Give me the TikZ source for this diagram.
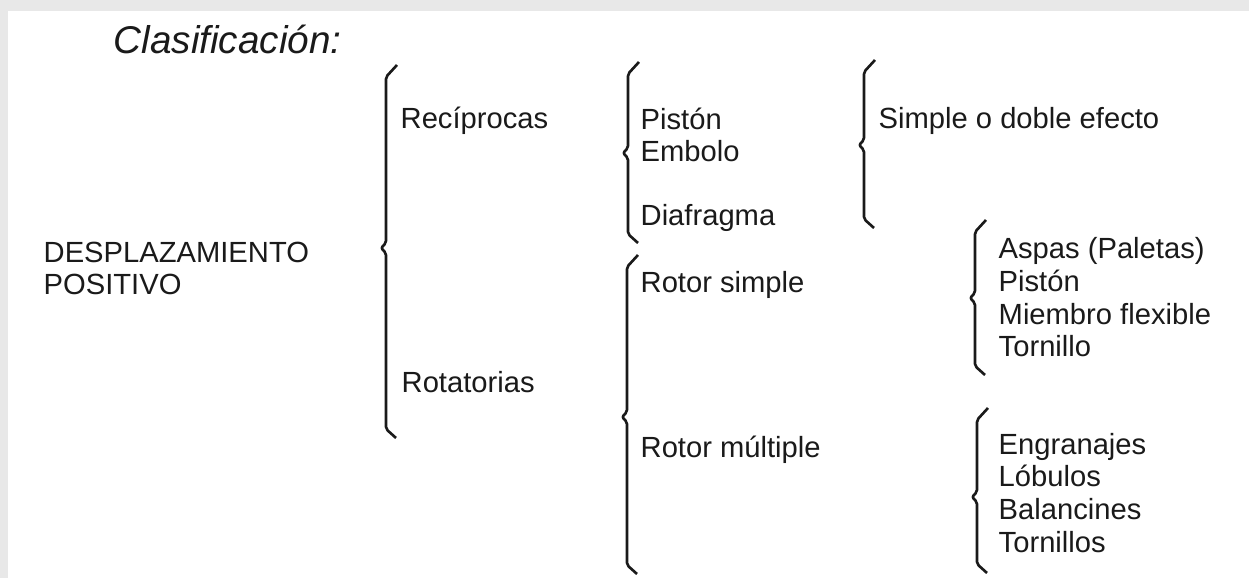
\documentclass[tikz,border=0pt]{standalone}
\usepackage{fontspec}
\setmainfont{Liberation Sans}
\definecolor{marco}{HTML}{E8E8E8}
\definecolor{tinta}{HTML}{1A1A1A}
% llave: x, arriba, punta, abajo
\newcommand{\llave}[4]{%
  \draw[llave] (#1+0.11,#2) -- (#1,#2-0.12) -- (#1,#3+0.05) -- (#1-0.05,#3)
    -- (#1,#3-0.05) -- (#1,#4+0.09) -- (#1+0.1,#4);
}
\begin{document}
\begin{tikzpicture}[every node/.style={font=\fontsize{8.3}{10}\selectfont, anchor=base west, inner sep=0pt, text=tinta},
    llave/.style={tinta, line width=0.75pt, line join=round, rounded corners=0.6pt}]
    % Marco
    \fill[marco] (0,0) rectangle (12.49,-5.78);
    \fill[white] (0.08,-0.11) rectangle (12.49,-5.78);
    \useasboundingbox (0,0) rectangle (12.49,-5.78);

    % Titulo
    \node[font=\fontsize{11}{13}\selectfont\itshape] (titulo) at (1.13,-0.535) {Clasificación:};

    % Raiz
    \node (desp) at (0.43,-2.63) {DESPLAZAMIENTO};
    \node (posit) at (0.43,-2.95) {POSITIVO};

    % Primer nivel
    \llave{3.86}{-0.65}{-2.48}{-4.38}
    \node (recip) at (4.00,-1.29) {Recíprocas};
    \node (rotat) at (4.01,-3.93) {Rotatorias};

    % Reciprocas
    \llave{6.28}{-0.62}{-1.53}{-2.43}
    \node (piston) at (6.40,-1.30) {Pistón};
    \node (embolo) at (6.40,-1.62) {Embolo};
    \node (diafr) at (6.40,-2.26) {Diafragma};

    \llave{8.64}{-0.60}{-1.45}{-2.28}
    \node (efecto) at (8.78,-1.29) {Simple o doble efecto};

    % Rotatorias
    \llave{6.27}{-2.55}{-4.17}{-5.74}
    \node (rsimple) at (6.40,-2.93) {Rotor simple};
    \node (rmult) at (6.40,-4.58) {Rotor múltiple};

    \llave{9.75}{-2.20}{-2.98}{-3.75}
    \node (aspas) at (9.98,-2.59) {Aspas (Paletas)};
    \node (piston2) at (9.98,-2.92) {Pistón};
    \node (miembro) at (9.98,-3.25) {Miembro flexible};
    \node (tornillo) at (9.98,-3.57) {Tornillo};

    \llave{9.77}{-4.08}{-4.97}{-5.73}
    \node (engr) at (9.98,-4.55) {Engranajes};
    \node (lobulos) at (9.98,-4.87) {Lóbulos};
    \node (balanc) at (9.98,-5.20) {Balancines};
    \node (tornillos) at (9.98,-5.53) {Tornillos};
  \end{tikzpicture}
\end{document}
